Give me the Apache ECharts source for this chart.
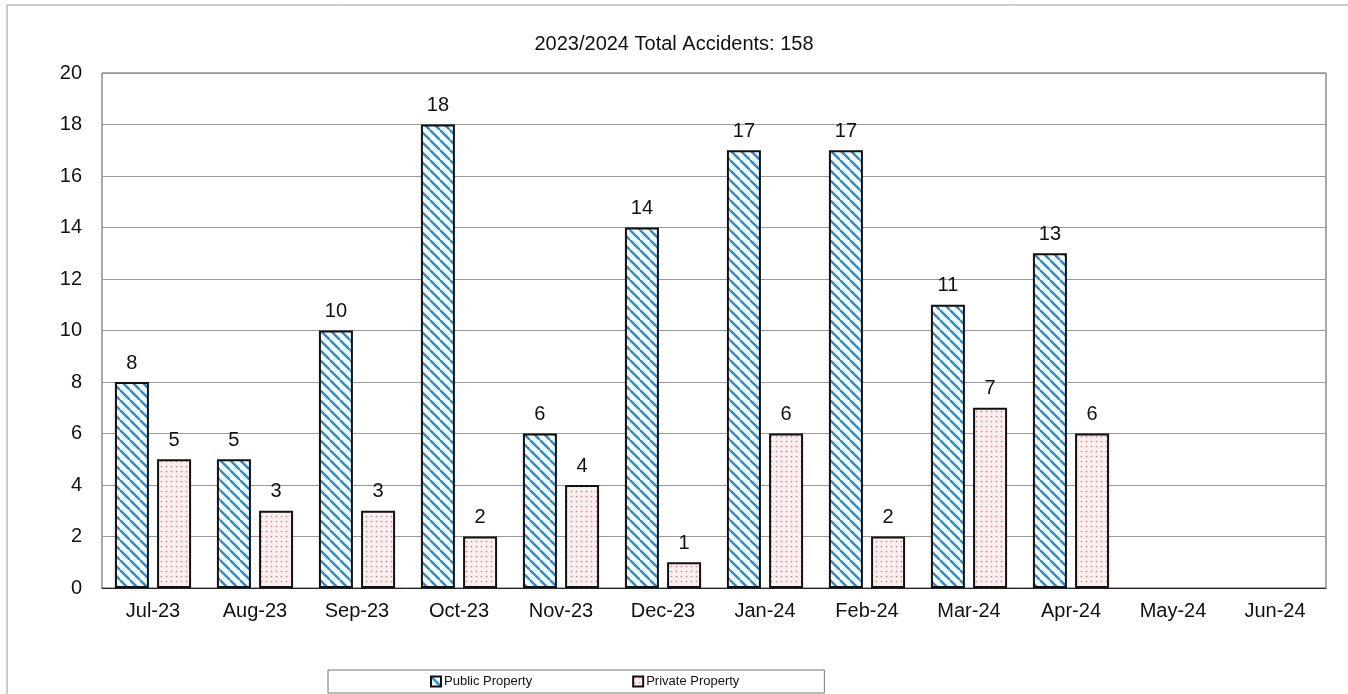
<!DOCTYPE html>
<html>
<head>
<meta charset="utf-8">
<script src="https://cdn.jsdelivr.net/npm/echarts@6/dist/echarts.min.js"></script>
<style>
html,body{margin:0;padding:0;background:#fff;}
#chart{width:1348px;height:694px;}
</style>
</head>
<body>
<div id="chart"></div>
<script>
const titleText = '2023/2024 Total Accidents: 158';
const months = ['Jul-23','Aug-23','Sep-23','Oct-23','Nov-23','Dec-23','Jan-24','Feb-24','Mar-24','Apr-24','May-24','Jun-24'];
const publicProperty = [8,5,10,18,6,14,17,17,11,13,null,null];
const privateProperty = [5,3,3,2,4,1,6,2,7,6,null,null];
const yTicks = {min:0, max:20, interval:2};

function stripePattern(){
  const s = 10;
  const c = document.createElement('canvas');
  c.width = s; c.height = s;
  const g = c.getContext('2d');
  g.fillStyle = '#f6fbff'; g.fillRect(0,0,s,s);
  g.strokeStyle = '#1e90d4'; g.lineWidth = 2.4;
  for (const o of [-s,0,s]) {
    g.beginPath(); g.moveTo(o,0); g.lineTo(o+s,s); g.stroke();
  }
  return c;
}
function dotPattern(){
  const s = 5;
  const c = document.createElement('canvas');
  c.width = s; c.height = s;
  const g = c.getContext('2d');
  g.fillStyle = '#fcefef'; g.fillRect(0,0,s,s);
  g.fillStyle = '#e07c7c';
  g.beginPath(); g.arc(1.5,1.5,0.85,0,Math.PI*2); g.fill();
  return c;
}

const chart = echarts.init(document.getElementById('chart'), null, {renderer:'canvas'});
const font = 'Liberation Sans, Arial, sans-serif';
const labelStyle = {show:true, position:'top', distance:9, fontSize:20, color:'#111', fontFamily:font};
chart.setOption({
  animation:false,
  backgroundColor:'#fff',
  title:{text:titleText, left:'center', top:29, textStyle:{fontSize:20, fontWeight:'normal', color:'#111', fontFamily:font}},
  graphic:[
    {type:'rect', shape:{x:7, y:5, width:1360, height:720}, style:{fill:'none', stroke:'#999', lineWidth:1}, silent:true}
  ],
  legend:{
    left:328, top:670, padding:[5,85,5,102], itemGap:100,
    borderColor:'#777', borderWidth:1,
    itemWidth:10, itemHeight:10, icon:'rect',
    textStyle:{fontSize:13, color:'#111', fontFamily:font, padding:[0,0,0,-2]},
    data:['Public Property','Private Property']
  },
  grid:{left:102, top:73, right:22, bottom:106, show:true, borderColor:'#555', borderWidth:1},
  xAxis:{
    type:'category', data:months,
    axisLine:{lineStyle:{color:'#222', width:1}},
    axisTick:{show:false},
    axisLabel:{fontSize:20, color:'#111', margin:13, fontFamily:font}
  },
  yAxis:{
    type:'value', min:yTicks.min, max:yTicks.max, interval:yTicks.interval,
    axisLine:{show:false}, axisTick:{show:false},
    axisLabel:{fontSize:20, color:'#111', margin:20, fontFamily:font},
    splitLine:{lineStyle:{color:'#999', width:1}}
  },
  series:[
    {name:'Public Property', type:'bar', data:publicProperty, barWidth:34, barGap:'24%',
     itemStyle:{color:{image:stripePattern(), repeat:'repeat'}, borderColor:'#111', borderWidth:2},
     label:labelStyle},
    {name:'Private Property', type:'bar', data:privateProperty, barWidth:34,
     itemStyle:{color:{image:dotPattern(), repeat:'repeat'}, borderColor:'#111', borderWidth:2},
     label:labelStyle}
  ]
});
</script>
</body>
</html>
